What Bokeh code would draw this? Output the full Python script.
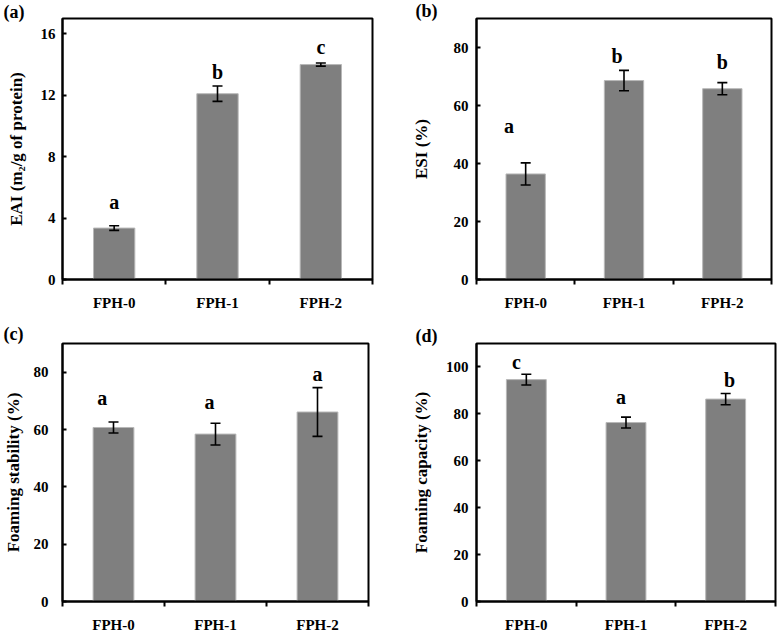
from bokeh.plotting import figure
from bokeh.models import Range1d, FixedTicker, Whisker, ColumnDataSource, TeeHead
from bokeh.layouts import column, row
from bokeh.embed import file_html
from bokeh.resources import INLINE
from bokeh.core.properties import value

categories = ["FPH-0", "FPH-1", "FPH-2"]

# (a) EAI
eai_mean = [3.35, 12.1, 14.0]
eai_sd = [0.15, 0.5, 0.1]
eai_letters = ["a", "b", "c"]
eai_letter_y = [4.3, 12.8, 14.4]
eai_letter_dx = [0.0, 0.0, 0.0]
eai_ticks = [0, 4, 8, 12, 16]
eai_max = 17

# (b) ESI
esi_mean = [36.4, 68.6, 65.8]
esi_sd = [3.8, 3.5, 2.1]
esi_letters = ["a", "b", "b"]
esi_letter_y = [49.2, 73.3, 71.2]
esi_letter_dx = [-0.17, -0.07, 0.0]
esi_ticks = [0, 20, 40, 60, 80]
esi_max = 90

# (c) Foaming stability
fs_mean = [60.7, 58.4, 66.1]
fs_sd = [1.9, 3.8, 8.5]
fs_letters = ["a", "a", "a"]
fs_letter_y = [67.0, 65.6, 75.4]
fs_letter_dx = [-0.11, -0.06, 0.0]
fs_ticks = [0, 20, 40, 60, 80]
fs_max = 90

# (d) Foaming capacity
fc_mean = [94.6, 76.3, 86.3]
fc_sd = [2.3, 2.3, 2.4]
fc_letters = ["c", "a", "b"]
fc_letter_y = [97.5, 82.3, 89.7]
fc_letter_dx = [-0.1, -0.05, 0.04]
fc_ticks = [0, 20, 40, 60, 80, 100]
fc_max = 110

FONT = "Liberation Serif"


def panel(tag, ylabel, mean, sd, letters, letter_y, letter_dx, yticks, ymax,
          width, height, left, right, top, bottom, tag_px, tag_standoff,
          ylab_standoff, tick_standoff):
    p = figure(width=width, height=height, output_backend="svg", toolbar_location=None,
               x_range=Range1d(0, len(categories)), y_range=Range1d(0, ymax),
               min_border_left=left, min_border_right=right,
               min_border_top=top, min_border_bottom=bottom)
    p.grid.visible = False
    p.outline_line_color = "black"
    p.outline_line_width = 2
    p.background_fill_color = "white"
    p.border_fill_color = "white"

    # panel tag as a left-aligned title shifted left of the frame
    p.title.text = tag
    p.title.align = "left"
    p.title.offset = tag_px
    p.title.standoff = tag_standoff
    p.title.text_font = FONT
    p.title.text_font_style = "bold"
    p.title.text_font_size = "18px"
    p.title.text_color = "black"
    p.title.vertical_align = "bottom"

    xs = [i + 0.5 for i in range(len(categories))]
    src = ColumnDataSource(dict(
        x=xs, top=mean,
        upper=[m + s for m, s in zip(mean, sd)],
        lower=[m - s for m, s in zip(mean, sd)],
        lx=[x + d for x, d in zip(xs, letter_dx)], ly=letter_y, lt=letters))

    p.vbar(x="x", top="top", bottom=0, width=0.4, source=src,
           fill_color="#7f7f7f", line_color="#b8b8b8", line_width=1)
    w = Whisker(base="x", upper="upper", lower="lower", source=src,
                line_color="black", line_width=1.6, level="annotation",
                upper_head=TeeHead(size=10, line_color="black", line_width=1.6),
                lower_head=TeeHead(size=10, line_color="black", line_width=1.6))
    p.add_layout(w)
    p.text(x="lx", y="ly", text="lt", source=src, text_font=value(FONT),
           text_font_style="bold", text_font_size="20px", text_align="center",
           text_baseline="bottom", text_color="black")

    # x axis
    xa = p.xaxis[0]
    xa.ticker = FixedTicker(ticks=xs, minor_ticks=list(range(len(categories) + 1)))
    xa.major_label_overrides = {x: c for x, c in zip(xs, categories)}
    xa.major_tick_in = 0
    xa.major_tick_out = 0
    xa.minor_tick_in = 0
    xa.minor_tick_out = 5
    xa.minor_tick_line_width = 2
    xa.minor_tick_line_color = "black"
    xa.axis_line_width = 2
    xa.axis_line_color = "black"
    xa.major_label_text_font = FONT
    xa.major_label_text_font_style = "bold"
    xa.major_label_text_font_size = "15px"
    xa.major_label_text_color = "black"
    xa.major_label_standoff = 10

    # y axis
    ya = p.yaxis[0]
    ya.ticker = FixedTicker(ticks=yticks, minor_ticks=[])
    ya.major_tick_in = 4
    ya.major_tick_out = 0
    ya.major_tick_line_width = 2
    ya.major_tick_line_color = "black"
    ya.axis_line_width = 2
    ya.axis_line_color = "black"
    ya.major_label_text_font = FONT
    ya.major_label_text_font_style = "bold"
    ya.major_label_text_font_size = "15px"
    ya.major_label_text_color = "black"
    ya.major_label_standoff = tick_standoff
    ya.axis_label = ylabel
    ya.axis_label_text_font = FONT
    ya.axis_label_text_font_style = "bold"
    ya.axis_label_text_font_size = "17px"
    ya.axis_label_text_color = "black"
    ya.axis_label_standoff = ylab_standoff
    return p


pa = panel("(a)", "EAI (m\u2082/g of protein)", eai_mean, eai_sd, eai_letters, eai_letter_y,
           eai_letter_dx, eai_ticks, eai_max,
           390, 320, 62, 18, 16, 41, -59, -6, 12, 7)
pb = panel("(b)", "ESI (%)", esi_mean, esi_sd, esi_letters, esi_letter_y,
           esi_letter_dx, esi_ticks, esi_max,
           389, 320, 86, 8, 18, 41, -61, -4, 20, 8)
pc = panel("(c)", "Foaming stability (%)", fs_mean, fs_sd, fs_letters, fs_letter_y,
           fs_letter_dx, fs_ticks, fs_max,
           390, 315, 62, 22, 23, 32, -59, 0, 8, 14)
pd = panel("(d)", "Foaming capacity (%)", fc_mean, fc_sd, fc_letters, fc_letter_y,
           fc_letter_dx, fc_ticks, fc_max,
           389, 315, 86, 4, 23, 31, -61, -4, 12, 8)

layout = column(row(pa, pb), row(pc, pd))

with open("out.html", "w") as f:
    f.write(file_html(layout, INLINE))
